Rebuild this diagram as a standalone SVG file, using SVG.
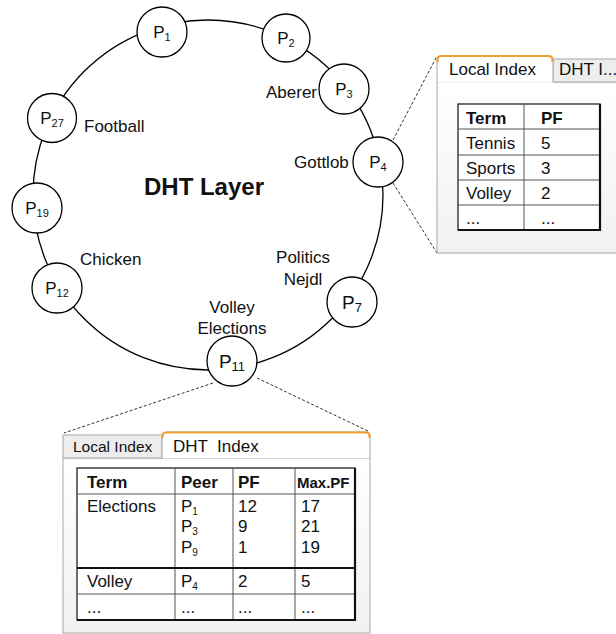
<svg xmlns="http://www.w3.org/2000/svg" width="616" height="634" viewBox="0 0 616 634">
<defs>
<linearGradient id="pg" x1="0" y1="0" x2="0" y2="1">
<stop offset="0" stop-color="#ffffff"/>
<stop offset="1" stop-color="#f1f1ef"/>
</linearGradient>
<style>
text{font-family:"Liberation Sans",Arial,sans-serif;fill:#111}
.lbl{font-size:17px}
.node circle{fill:#fff;stroke:#000;stroke-width:1.3}
.np{font-size:17px;text-anchor:middle}
.np2{font-size:19px;text-anchor:middle}
.sub{font-size:11px}
.sub2{font-size:13px}
.ring{fill:none;stroke:#000;stroke-width:1.3}
.dash{fill:none;stroke:#333;stroke-width:1;stroke-dasharray:3 2}
.body{fill:url(#pg);stroke:#a8a8a8;stroke-width:1}
.tabg{fill:#ededed;stroke:#a8a8a8;stroke-width:1}
.tabw{fill:#fff;stroke:#a8a8a8;stroke-width:1}
.orange{fill:none;stroke:#f0a032;stroke-width:2.2}
.tbl{fill:#fff;stroke:#222;stroke-width:1.3}
.grid{stroke:#555;stroke-width:1}
.shadow{stroke:#111;stroke-width:2.2}
.b{font-weight:bold}
.t{font-size:17px}
.ts{font-size:10px}
</style>
</defs>

<g id="connectors">
<circle class="ring" cx="208" cy="195" r="175"/>
<line class="dash" x1="393" y1="140" x2="437" y2="56"/>
<line class="dash" x1="393" y1="183" x2="437" y2="253"/>
<line class="dash" x1="213" y1="383" x2="64" y2="433"/>
<line class="dash" x1="257" y1="378" x2="370" y2="432"/>
</g>

<g id="P1" class="node"><circle cx="162" cy="32" r="25"/><text class="np" x="162" y="38">P<tspan class="sub" dy="3">1</tspan></text></g>
<g id="P2" class="node"><circle cx="286" cy="38" r="24"/><text class="np" x="286" y="44">P<tspan class="sub" dy="3">2</tspan></text></g>
<g id="P3" class="node"><circle cx="344" cy="89" r="25"/><text class="np" x="344" y="95">P<tspan class="sub" dy="3">3</tspan></text></g>
<g id="P4" class="node"><circle cx="378" cy="162" r="25"/><text class="np" x="378" y="168">P<tspan class="sub" dy="3">4</tspan></text></g>
<g id="P7" class="node"><circle cx="352" cy="302" r="25"/><text class="np2" x="352" y="309">P<tspan class="sub2" dy="3">7</tspan></text></g>
<g id="P11" class="node"><circle cx="232" cy="361" r="25"/><text class="np2" x="232" y="368">P<tspan class="sub2" dy="3">11</tspan></text></g>
<g id="P12" class="node"><circle cx="57" cy="288" r="25"/><text class="np" x="57" y="294">P<tspan class="sub" dy="3">12</tspan></text></g>
<g id="P19" class="node"><circle cx="37" cy="208" r="25"/><text class="np" x="37" y="214">P<tspan class="sub" dy="3">19</tspan></text></g>
<g id="P27" class="node"><circle cx="52" cy="118" r="24.5"/><text class="np" x="52" y="124">P<tspan class="sub" dy="3">27</tspan></text></g>

<g id="labels">
<text class="lbl" x="266" y="98">Aberer</text>
<text class="lbl" x="84" y="132">Football</text>
<text class="lbl" x="294" y="168">Gottlob</text>
<text x="204" y="195" style="font-size:24px;font-weight:bold;text-anchor:middle">DHT Layer</text>
<text class="lbl" x="80" y="265">Chicken</text>
<text class="lbl" x="303" y="263" text-anchor="middle">Politics</text>
<text class="lbl" x="303" y="285" text-anchor="middle">Nejdl</text>
<text class="lbl" x="232" y="313" text-anchor="middle">Volley</text>
<text class="lbl" x="232" y="334" text-anchor="middle">Elections</text>
</g>

<g id="local-index-panel">
<rect class="body" x="437" y="82" width="190" height="171"/>
<rect class="tabg" x="553" y="59" width="70" height="23"/>
<path class="tabw" d="M437,82 V60 Q437,56 441,56 H549 Q553,56 553,60 V82"/>
<path class="orange" d="M437.5,62 V60 Q437.5,56 441.5,56 H548.5 Q552.5,56 552.5,60 V62"/>
<line x1="438" y1="82.5" x2="553" y2="82.5" stroke="#eeeeee" stroke-width="1"/>
<text class="t" x="449" y="75">Local Index</text>
<text class="t" x="559" y="75">DHT I...</text>
<rect class="tbl" x="458" y="104" width="142" height="126"/>
<line class="grid" x1="524" y1="104" x2="524" y2="230"/>
<line class="grid" x1="458" y1="129" x2="600" y2="129"/>
<line class="grid" x1="458" y1="155" x2="600" y2="155"/>
<line class="grid" x1="458" y1="180" x2="600" y2="180"/>
<line class="grid" x1="458" y1="205" x2="600" y2="205"/>
<line class="shadow" x1="458" y1="230" x2="601" y2="230"/>
<line class="shadow" x1="600" y1="104" x2="600" y2="231"/>
<text class="t b" x="466" y="124">Term</text>
<text class="t b" x="541" y="124">PF</text>
<text class="t" x="466" y="149">Tennis</text>
<text class="t" x="541" y="149">5</text>
<text class="t" x="466" y="174">Sports</text>
<text class="t" x="541" y="174">3</text>
<text class="t" x="466" y="199">Volley</text>
<text class="t" x="541" y="199">2</text>
<text class="t" x="466" y="224">...</text>
<text class="t" x="541" y="224">...</text>
</g>

<g id="dht-index-panel">
<rect class="body" x="63" y="458" width="307" height="175"/>
<rect class="tabg" x="63" y="435" width="99" height="23"/>
<path class="tabw" d="M162,458 V436 Q162,432 166,432 H366 Q370,432 370,436 V458"/>
<path class="orange" d="M162.5,438 V436 Q162.5,432.5 166.5,432.5 H366 Q369.5,432.5 369.5,436 V438"/>
<text x="73" y="452" style="font-size:15.5px">Local Index</text>
<text x="173" y="452" class="t" xml:space="preserve">DHT  Index</text>
<rect class="tbl" x="77" y="468" width="278" height="152"/>
<line class="grid" x1="175" y1="468" x2="175" y2="620"/>
<line class="grid" x1="233" y1="468" x2="233" y2="620"/>
<line class="grid" x1="295" y1="468" x2="295" y2="620"/>
<line class="grid" x1="77" y1="494" x2="355" y2="494"/>
<line class="shadow" x1="77" y1="568" x2="355" y2="568"/>
<line class="grid" x1="77" y1="594" x2="355" y2="594"/>
<line class="shadow" x1="77" y1="620" x2="356" y2="620"/>
<line class="shadow" x1="355" y1="468" x2="355" y2="621"/>
<text class="t b" x="87" y="488">Term</text>
<text class="t b" x="181" y="488">Peer</text>
<text class="t b" x="238" y="488">PF</text>
<text class="b" x="297" y="488" style="font-size:15px">Max.PF</text>
<text class="t" x="87" y="512">Elections</text>
<text class="t" x="181" y="512">P<tspan class="ts" dy="3">1</tspan></text>
<text class="t" x="181" y="532">P<tspan class="ts" dy="3">3</tspan></text>
<text class="t" x="181" y="553">P<tspan class="ts" dy="3">9</tspan></text>
<text class="t" x="238" y="512">12</text>
<text class="t" x="238" y="532">9</text>
<text class="t" x="238" y="553">1</text>
<text class="t" x="301" y="512">17</text>
<text class="t" x="301" y="532">21</text>
<text class="t" x="301" y="553">19</text>
<text class="t" x="87" y="587">Volley</text>
<text class="t" x="181" y="587">P<tspan class="ts" dy="3">4</tspan></text>
<text class="t" x="238" y="587">2</text>
<text class="t" x="301" y="587">5</text>
<text class="t" x="87" y="613">...</text>
<text class="t" x="181" y="613">...</text>
<text class="t" x="238" y="613">...</text>
<text class="t" x="301" y="613">...</text>
</g>
</svg>
